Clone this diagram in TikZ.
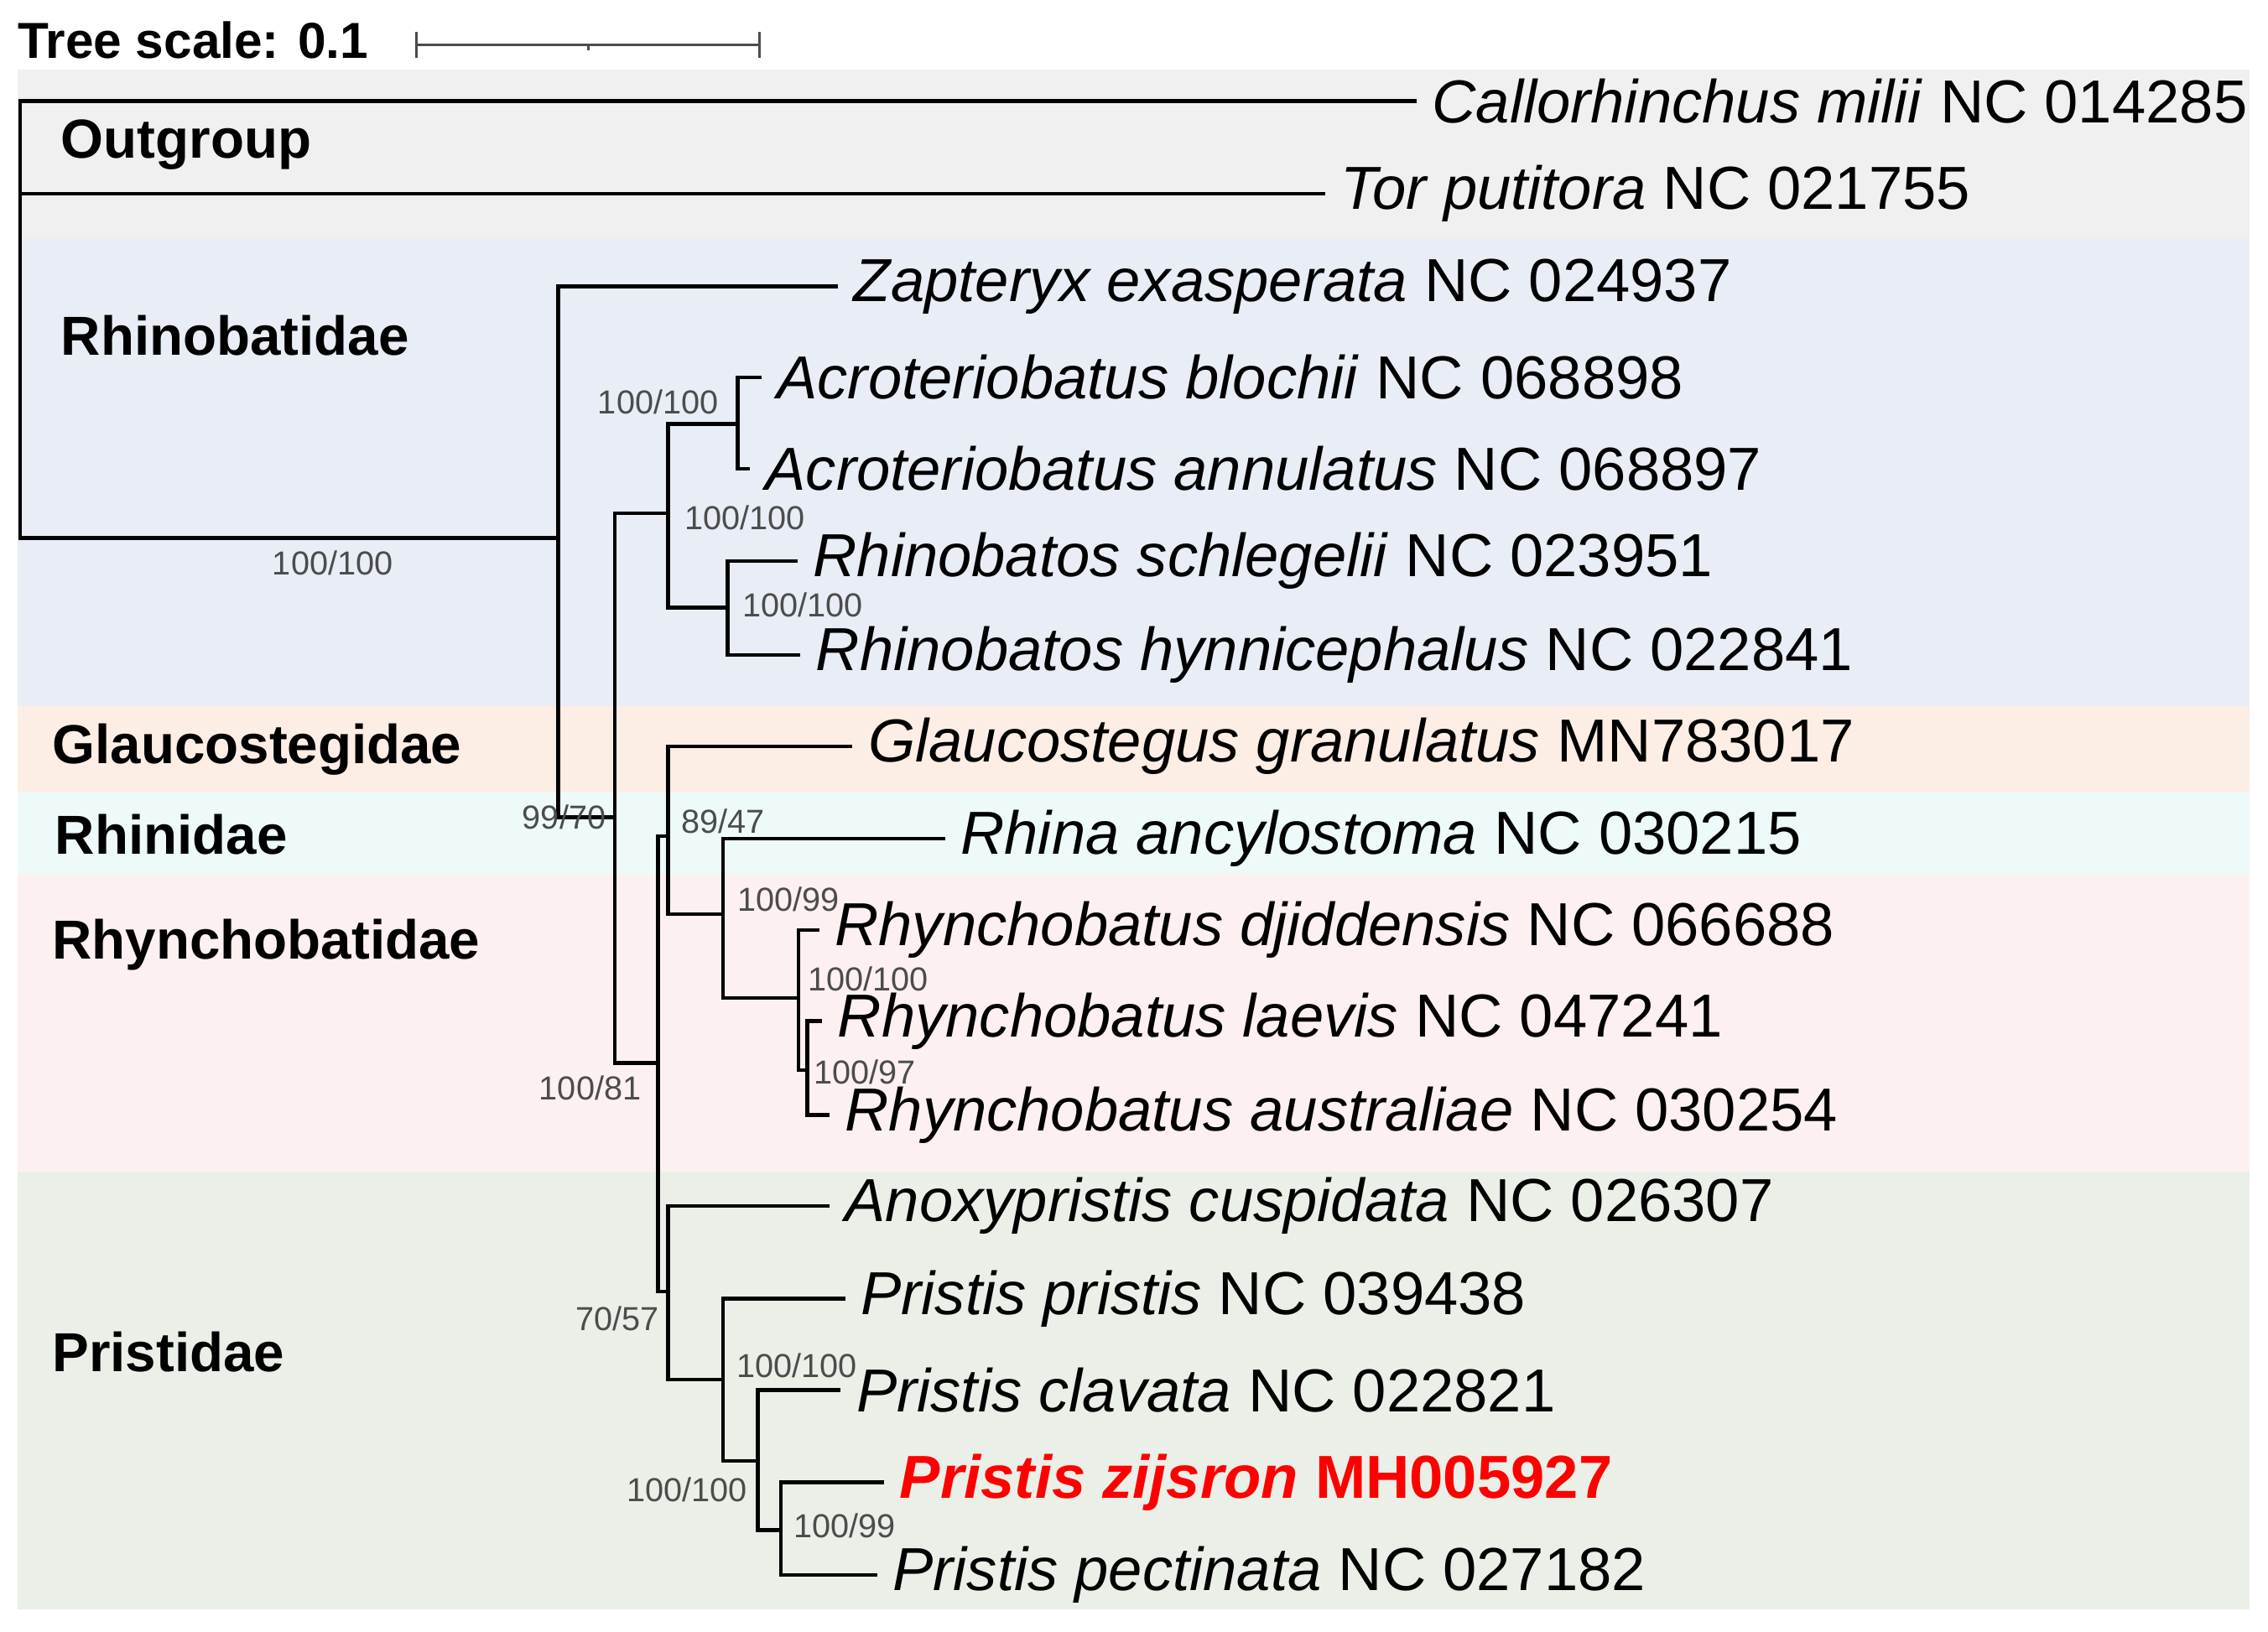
\documentclass[tikz,border=0pt]{standalone}
\usepackage{fontspec}
\setmainfont{Liberation Sans}
\definecolor{bgrey}{RGB}{240,240,240}
\definecolor{bblue}{RGB}{232,237,246}
\definecolor{borange}{RGB}{252,238,228}
\definecolor{bcyan}{RGB}{238,250,250}
\definecolor{bpink}{RGB}{253,240,240}
\definecolor{bgreen}{RGB}{234,240,232}
\begin{document}
\begin{tikzpicture}[x=1pt,y=-1pt,
  br/.style={line width=2.6pt,line cap=rect},
  sp/.style={anchor=west,inner sep=0pt,xshift=12pt,font=\fontsize{42}{44}\selectfont},
  fam/.style={anchor=west,inner sep=0pt,font=\fontsize{38}{40}\selectfont\bfseries},
  bs/.style={inner sep=0pt,text=black!70,font=\fontsize{23}{25}\selectfont}]
\useasboundingbox (0,0) rectangle (1568,1128);
\fill[bgrey] (12,48) rectangle (1555,165);
\fill[bblue] (12,165) rectangle (1555,488);
\fill[borange] (12,488) rectangle (1555,548);
\fill[bcyan] (12,548) rectangle (1555,605);
\fill[bpink] (12,605) rectangle (1555,810);
\fill[bgreen] (12,810) rectangle (1555,1113);
% scale
\node[anchor=west,inner sep=0pt,font=\fontsize{35}{37}\selectfont\bfseries] (ts) at (12,28) {Tree scale: 0.1};
\coordinate (s1) at (288,31); \coordinate (s2) at (525,31);
\draw[line width=1.8pt,black!70] (s1) -- (s2) (288,22) -- (288,40) (525,22) -- (525,40) (407,31) -- (407,35);
% families
\node[fam] (f1) at (42,100) {Outgroup};
\node[fam] (f2) at (42,232) {Rhinobatidae};
\node[fam] (f3) at (36,518) {Glaucostegidae};
\node[fam] (f4) at (38,577) {Rhinidae};
\node[fam] (f5) at (36,653) {Rhynchobatidae};
\node[fam] (f6) at (36,935) {Pristidae};
% tips
\foreach \n/\x/\y in {t1/978/70,t2/915/134,t3/578/198,t4/525/261,t5/517/324,t6/550/388,t7/552/453,t8/588/516,t9/652/580,t10/565/643,t11/567/706,t12/572/771,t13/572/834,t14/583/898,t15/580/961,t16/610/1025,t17/605/1089}
  \coordinate (\n) at (\x,\y);
% tree
\draw[br] (t1) -- (14,70) -- (14,372) -- (386,372);
\draw[br] (t2) -- (14,134);
\draw[br] (t3) -- (386,198) -- (386,565) -- (425,565);
\draw[br] (425,355) -- (425,735) -- (455,735);
\draw[br] (425,355) -- (462,355);
\draw[br] (462,293) -- (462,420);
\draw[br] (462,293) -- (510,293);
\draw[br] (t4) -- (510,261) -- (510,324) -- (t5);
\draw[br] (462,420) -- (503,420);
\draw[br] (t6) -- (503,388) -- (503,453) -- (t7);
\draw[br] (455,578) -- (455,893) -- (462,893);
\draw[br] (455,578) -- (462,578);
\draw[br] (t8) -- (462,516) -- (462,632) -- (500,632);
\draw[br] (t9) -- (500,580) -- (500,690) -- (552,690);
\draw[br] (t10) -- (552,643) -- (552,740) -- (558,740);
\draw[br] (t11) -- (558,706) -- (558,771) -- (t12);
\draw[br] (t13) -- (462,834) -- (462,954) -- (500,954);
\draw[br] (t14) -- (500,898) -- (500,1010) -- (524,1010);
\draw[br] (t15) -- (524,961) -- (524,1058) -- (540,1058);
\draw[br] (t16) -- (540,1025) -- (540,1089) -- (t17);
% species
\node[sp] (n1) at (t1) {\textit{Callorhinchus milii} NC 014285};
\node[sp] (n2) at (t2) {\textit{Tor putitora} NC 021755};
\node[sp] (n3) at (t3) {\textit{Zapteryx exasperata} NC 024937};
\node[sp] (n4) at (t4) {\textit{Acroteriobatus blochii} NC 068898};
\node[sp] (n5) at (t5) {\textit{Acroteriobatus annulatus} NC 068897};
\node[sp] (n6) at (t6) {\textit{Rhinobatos schlegelii} NC 023951};
\node[sp] (n7) at (t7) {\textit{Rhinobatos hynnicephalus} NC 022841};
\node[sp] (n8) at (t8) {\textit{Glaucostegus granulatus} MN783017};
\node[sp] (n9) at (t9) {\textit{Rhina ancylostoma} NC 030215};
\node[sp] (n10) at (t10) {\textit{Rhynchobatus djiddensis} NC 066688};
\node[sp] (n11) at (t11) {\textit{Rhynchobatus laevis} NC 047241};
\node[sp] (n12) at (t12) {\textit{Rhynchobatus australiae} NC 030254};
\node[sp] (n13) at (t13) {\textit{Anoxypristis cuspidata} NC 026307};
\node[sp] (n14) at (t14) {\textit{Pristis pristis} NC 039438};
\node[sp] (n15) at (t15) {\textit{Pristis clavata} NC 022821};
\node[sp,text=red,font=\fontsize{42}{44}\selectfont\bfseries] (n16) at (t16) {\textit{Pristis zijsron} MH005927};
\node[sp] (n17) at (t17) {\textit{Pristis pectinata} NC 027182};
% support
\node[bs] (b1) at (230,389) {100/100};
\node[bs] (b2) at (455,278) {100/100};
\node[bs] (b3) at (515,358) {100/100};
\node[bs] (b4) at (555,418) {100/100};
\node[bs] (b5) at (390,565) {99/70};
\node[bs] (b6) at (500,568) {89/47};
\node[bs] (b7) at (545,622) {100/99};
\node[bs] (b8) at (600,677) {100/100};
\node[bs] (b9) at (598,741) {100/97};
\node[bs] (b10) at (408,752) {100/81};
\node[bs] (b11) at (427,912) {70/57};
\node[bs] (b12) at (551,944) {100/100};
\node[bs] (b13) at (475,1030) {100/100};
\node[bs] (b14) at (584,1055) {100/99};
\end{tikzpicture}
\end{document}
